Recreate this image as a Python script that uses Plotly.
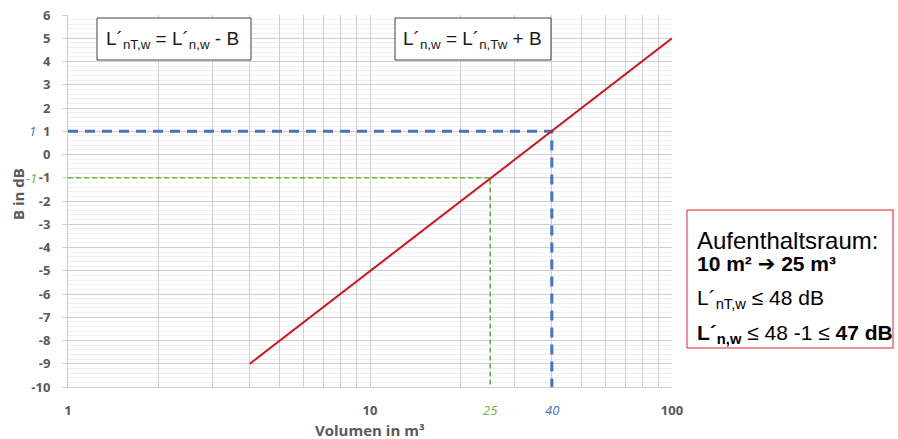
import numpy as np
import plotly.graph_objects as go

# Data
red_volume = [4, 100]
red_b = [-9, 5]
blue_volume = [1, 40, 40]
blue_b = [1, 1, -10]
green_volume = [1, 25, 25]
green_b = [-1, -1, -10]
x_gridvals = [1, 2, 3, 4, 5, 6, 7, 8, 9, 10, 20, 30, 40, 50, 60, 70, 80, 90, 100]
x_labels = ["1", "", "", "", "", "", "", "", "", "10", "", "", "", "", "", "", "", "", "100"]
y_ticks = list(range(-10, 7))
y_labels = [str(v) for v in y_ticks]

GRAY = "#595959"
GRID = "#cfcfcf"
BLUE = "#4472C4"
GREEN = "#70AD47"

fig = go.Figure()
fig.add_trace(go.Scatter(x=green_volume, y=green_b, mode="lines",
                         line=dict(color=GREEN, width=1.6, dash="5px,3px"), hoverinfo="skip"))
fig.add_trace(go.Scatter(x=blue_volume, y=blue_b, mode="lines",
                         line=dict(color=BLUE, width=3, dash="10px,7px"), hoverinfo="skip"))
fig.add_trace(go.Scatter(x=red_volume, y=red_b, mode="lines",
                         line=dict(color="#D0141E", width=2), hoverinfo="skip"))

fig.update_layout(
    width=898, height=439,
    margin=dict(l=68, r=226, t=15, b=52, autoexpand=False),
    paper_bgcolor="white", plot_bgcolor="white",
    showlegend=False,
    xaxis=dict(type="log", range=[0, 2], tickvals=x_gridvals, ticktext=x_labels,
               showgrid=True, gridcolor=GRID, gridwidth=1, zeroline=False, automargin=False,
               showline=True, linecolor=GRID, ticks="", ticklabelstandoff=11,
               tickfont=dict(family="Open Sans", size=13, color=GRAY, weight="bold")),
    yaxis=dict(range=[-10, 6], tickvals=y_ticks, ticktext=y_labels, showgrid=True,
               gridcolor=GRID, gridwidth=1, automargin=False,
               zeroline=False, showline=True, linecolor=GRID, ticks="outside", ticklen=5,
               tickcolor=GRID, ticklabelstandoff=9,
               minor=dict(dtick=0.2, showgrid=True, gridcolor="#f0f0f0", gridwidth=1),
               tickfont=dict(family="Open Sans", size=13, color=GRAY, weight="bold")),
)

def px_x(px):
    return (px - 68) / 604.0

def px_y(py):
    return (387 - py) / 372.0

shapes = []
for x0, x1 in [(97, 251), (395, 551)]:
    shapes.append(dict(type="rect", xref="paper", yref="paper",
                       x0=px_x(x0), x1=px_x(x1), y0=px_y(60), y1=px_y(18),
                       line=dict(color="#404040", width=1), fillcolor="white", layer="above"))
shapes.append(dict(type="rect", xref="paper", yref="paper",
                   x0=px_x(687), x1=px_x(893), y0=px_y(348), y1=px_y(210),
                   line=dict(color="#E0202A", width=1), fillcolor="white"))
fig.update_layout(shapes=shapes)

ann = []

def add(text, x, y, font, xanchor="center", xref="paper", yref="paper", **kw):
    ann.append(dict(xref=xref, yref=yref, x=x, y=y, xanchor=xanchor, yanchor="middle",
                    showarrow=False, text=text, font=font, **kw))

ffont = dict(family="Liberation Sans", size=19, color="#1a1a1a")
add("L´<sub>nT,w</sub> = L´<sub>n,w</sub> - B", px_x(172), px_y(40), ffont)
add("L´<sub>n,w</sub> = L´<sub>n,Tw</sub> + B", px_x(472), px_y(40), ffont)

bfont = dict(family="Liberation Sans", size=21, color="black")
add("Aufenthaltsraum:", px_x(695), px_y(240), dict(family="Liberation Sans", size=24, color="black"), xanchor="left")
add("<b>10 m² <span style='font-family:DejaVu Sans'>➔</span> 25 m³</b>", px_x(695), px_y(264), bfont, xanchor="left")
add("L´<sub>nT,w</sub> ≤ 48 dB", px_x(695), px_y(299), bfont, xanchor="left")
add("<b>L´<sub>n,w</sub></b> ≤ 48 -1 ≤ <b>47 dB</b>", px_x(695), px_y(334), bfont, xanchor="left")

tfont = dict(family="Open Sans", size=15, color=GRAY, weight="bold")
add("Volumen in m³", px_x(370), px_y(430), tfont)
add("B in dB", px_x(18), px_y(194), tfont, textangle=-90)

ifont_b = dict(family="Open Sans", size=13, color=BLUE, style="italic")
ifont_g = dict(family="Open Sans", size=13, color=GREEN, style="italic")
add(str(blue_volume[1]), np.log10(blue_volume[1]), px_y(410), ifont_b, xref="x")
add(str(green_volume[1]), np.log10(green_volume[1]), px_y(410), ifont_g, xref="x")
add(str(blue_b[0]), px_x(38), blue_b[0], ifont_b, xanchor="right", yref="y")
add(str(green_b[0]), px_x(39), green_b[0], ifont_g, xanchor="right", yref="y")
fig.update_layout(annotations=ann)

fig.write_html("out.html", config={"displayModeBar": False},
               post_script="document.body.style.margin='0px';document.body.style.padding='0px';")
